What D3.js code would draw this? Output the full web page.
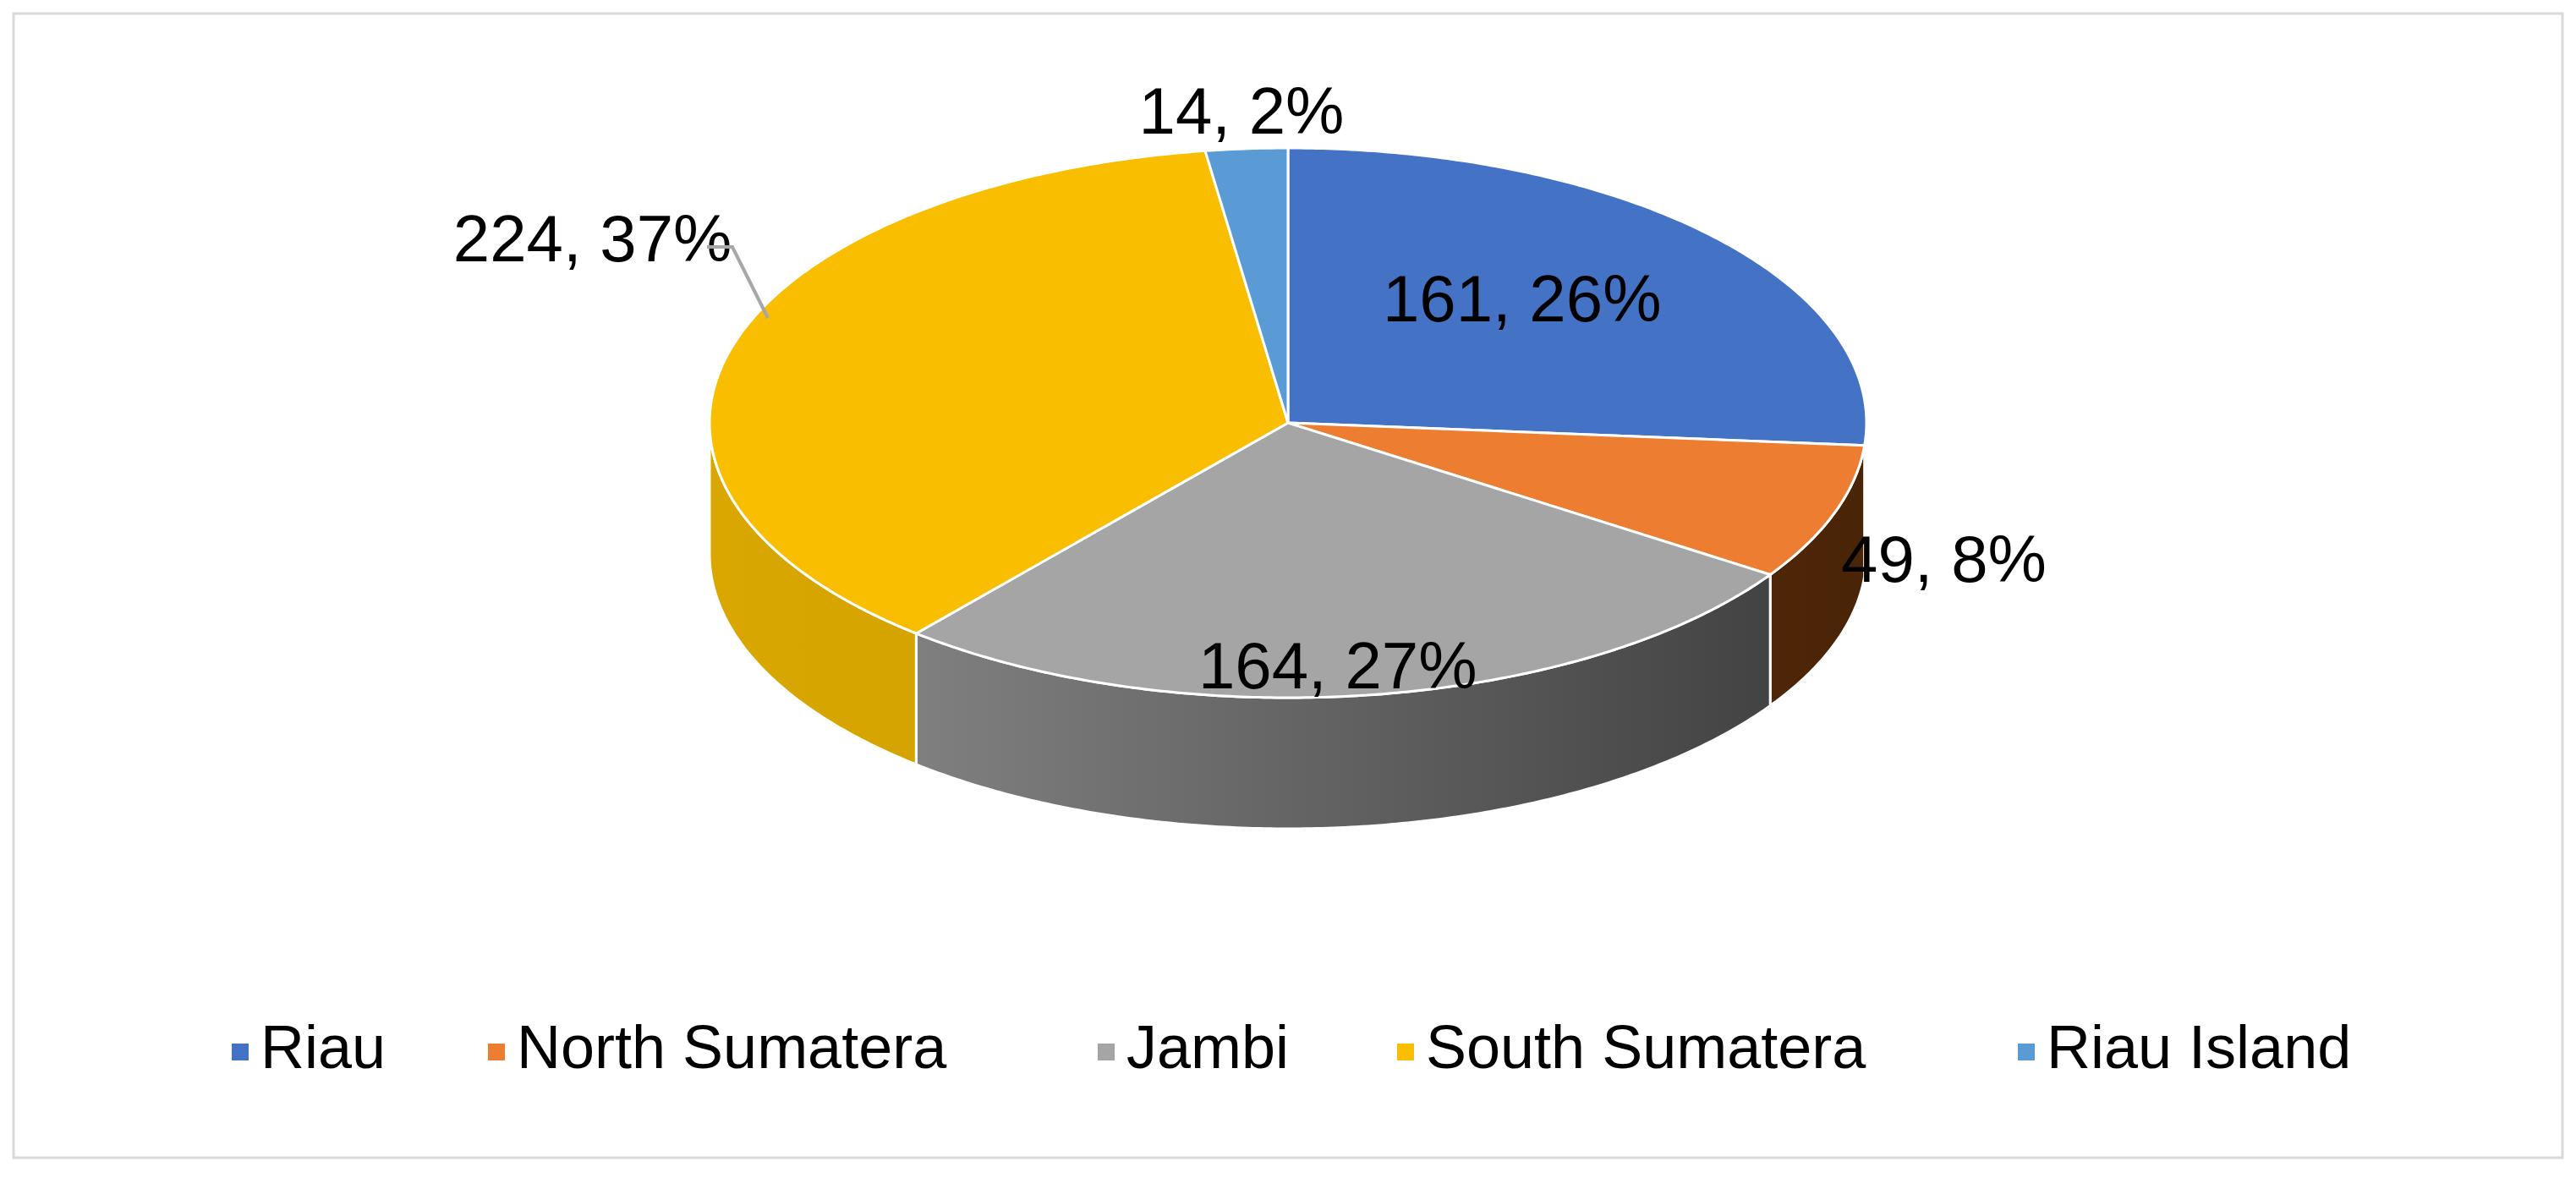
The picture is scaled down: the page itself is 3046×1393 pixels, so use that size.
<!DOCTYPE html>
<html><head><meta charset="utf-8">
<script src="https://cdn.jsdelivr.net/npm/d3@7"></script>
<style>body{margin:0;background:#fff}</style>
</head><body><div id="chart"></div>
<script>
var W = 3046, H = 1393;
var categories = ["Riau", "North Sumatera", "Jambi", "South Sumatera", "Riau Island"];
var values = [161, 49, 164, 224, 14];
var percents = ["26%", "8%", "27%", "37%", "2%"];
var topColors = ["#4472C4", "#ED7D31", "#A5A5A5", "#F9BE00", "#5B9BD5"];
var sideLeft = ["#2f5597", "#7a3c12", "#8e8e8e", "#d9a700", "#41719c"];
var sideRight = ["#2f5597", "#4a2407", "#3c3c3c", "#c89400", "#41719c"];
// label placement: radius factor, vertical factor
var labelR = [0.55, 1.2, 0.6, 1.25, 1.12];
var labelDy = [-20, 40, 100, -100, 0];

var cx = 1523, cy = 500, rx = 684, ry = 325, depth = 155;

var svg = d3.select("#chart").append("svg").attr("width", W).attr("height", H);
svg.append("rect").attr("x", 16).attr("y", 16).attr("width", W - 32).attr("height", H - 40)
  .attr("fill", "#fff").attr("stroke", "#d9d9d9").attr("stroke-width", 3);

var defs = svg.append("defs");
values.forEach(function (v, i) {
  var g = defs.append("linearGradient").attr("id", "side" + i)
    .attr("gradientUnits", "userSpaceOnUse")
    .attr("x1", cx - rx).attr("x2", cx + rx).attr("y1", 0).attr("y2", 0);
  g.append("stop").attr("offset", "0%").attr("stop-color", sideLeft[i]);
  g.append("stop").attr("offset", "100%").attr("stop-color", sideRight[i]);
});

var pie = d3.pie().sort(null).value(function (d) { return d; });
var arcs = pie(values);

function pt(a, dz) {
  return [cx + rx * Math.sin(a), cy - ry * Math.cos(a) + (dz || 0)];
}
function arcPts(a0, a1, dz) {
  var n = Math.max(4, Math.ceil((a1 - a0) / 0.01)), out = [];
  for (var k = 0; k <= n; k++) out.push(pt(a0 + (a1 - a0) * k / n, dz));
  return out;
}
var line = d3.line();

// side walls (front half only: angles between PI/2 and 3PI/2)
arcs.forEach(function (d, i) {
  var a0 = Math.max(d.startAngle, Math.PI / 2), a1 = Math.min(d.endAngle, 3 * Math.PI / 2);
  if (a1 <= a0) return;
  var pts = arcPts(a0, a1, 0).concat(arcPts(a0, a1, depth).reverse());
  svg.append("path").attr("d", line(pts) + "Z")
    .attr("fill", "url(#side" + i + ")").attr("stroke", "#fff").attr("stroke-width", 3);
});

// top faces
arcs.forEach(function (d, i) {
  var pts = [[cx, cy]].concat(arcPts(d.startAngle, d.endAngle, 0));
  svg.append("path").attr("d", line(pts) + "Z")
    .attr("fill", topColors[i]).attr("stroke", "#fff").attr("stroke-width", 3);
});

// labels
arcs.forEach(function (d, i) {
  var m = (d.startAngle + d.endAngle) / 2;
  var x = cx + rx * labelR[i] * Math.sin(m);
  var y = cy - ry * labelR[i] * Math.cos(m) + labelDy[i];
  svg.append("text").attr("x", x).attr("y", y)
    .attr("text-anchor", "middle").attr("dominant-baseline", "middle")
    .attr("font-family", "Liberation Sans, Arial, sans-serif").attr("font-size", 78)
    .attr("fill", "#000").text(values[i] + ", " + percents[i]);
});
// leader line for South Sumatera
svg.append("path").attr("d", "M836,292 L866,292 L908,376")
  .attr("fill", "none").attr("stroke", "#a6a6a6").attr("stroke-width", 4);

// legend
var legX = [274, 577, 1298, 1652, 2386];
var leg = svg.selectAll(".leg").data(categories).enter().append("g")
  .attr("transform", function (d, i) { return "translate(" + legX[i] + ",1244)"; });
leg.append("rect").attr("x", 0).attr("y", -10).attr("width", 20).attr("height", 20)
  .attr("fill", function (d, i) { return topColors[i]; });
leg.append("text").attr("x", 34).attr("y", 0).attr("dominant-baseline", "middle")
  .attr("font-family", "Liberation Sans, Arial, sans-serif").attr("font-size", 72)
  .text(function (d) { return d; });
</script></body></html>
